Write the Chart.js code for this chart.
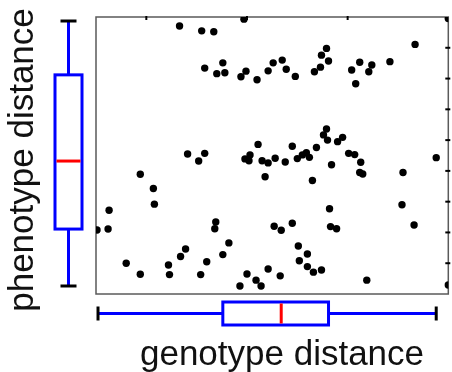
<!DOCTYPE html>
<html lang="en">
<head>
  <meta charset="UTF-8">
  <title>Genotype vs Phenotype Distance</title>
  <script src="https://cdn.jsdelivr.net/npm/chart.js"></script>
  <style>
    html, body {
      margin: 0;
      padding: 0;
      background: #fff;
    }
    #wrap {
      width: 452px;
      height: 372px;
    }
  </style>
</head>
<body>
  <div id="wrap">
    <canvas id="distChart" width="452" height="372"></canvas>
  </div>

  <script>
    // pairwise distances, one entry per pair
    const genotypeDistance = [
      0.197, 0.133, 0.155, 0.167, 0.176, 0.158, 0.170, 0.178, 0.199, 0.194,
      0.210, 0.221, 0.226, 0.235, 0.239, 0.248, 0.267, 0.273, 0.274, 0.279,
      0.281, 0.304, 0.312, 0.308, 0.321, 0.324, 0.342, 0.367, 0.400, 0.211,
      0.245, 0.269, 0.279, 0.276, 0.280, 0.290, 0.295, 0.141, 0.158, 0.152,
      0.198, 0.203, 0.202, 0.215, 0.221, 0.218, 0.094, 0.107, 0.108, 0.063,
      0.051, 0.062, 0.169, 0.168, 0.182, 0.139, 0.134, 0.176, 0.160, 0.080,
      0.122, 0.094, 0.123, 0.154, 0.200, 0.221, 0.193, 0.209, 0.214, 0.228,
      0.238, 0.250, 0.255, 0.259, 0.262, 0.301, 0.307, 0.284, 0.313, 0.312,
      0.315, 0.265, 0.355, 0.388, 0.282, 0.354, 0.227, 0.234, 0.245, 0.283,
      0.289, 0.366, 0.251, 0.260, 0.252, 0.260, 0.266, 0.274, 0.233, 0.319,
      0.400
    ];
    const phenotypeDistance = [
      0.893, 0.871, 0.855, 0.852, 0.751, 0.734, 0.716, 0.719, 0.724, 0.706,
      0.696, 0.725, 0.751, 0.760, 0.730, 0.707, 0.722, 0.737, 0.776, 0.798,
      0.757, 0.728, 0.753, 0.683, 0.722, 0.744, 0.755, 0.811, 0.895, 0.486,
      0.480, 0.476, 0.536, 0.517, 0.500, 0.495, 0.509, 0.455, 0.457, 0.432,
      0.439, 0.452, 0.433, 0.433, 0.426, 0.381, 0.389, 0.343, 0.292, 0.272,
      0.208, 0.211, 0.234, 0.212, 0.166, 0.146, 0.122, 0.128, 0.105, 0.100,
      0.094, 0.064, 0.063, 0.063, 0.065, 0.081, 0.026, 0.045, 0.026, 0.441,
      0.429, 0.440, 0.452, 0.459, 0.444, 0.457, 0.453, 0.420, 0.428, 0.395,
      0.390, 0.369, 0.395, 0.443, 0.277, 0.290, 0.220, 0.207, 0.230, 0.219,
      0.212, 0.224, 0.156, 0.130, 0.108, 0.089, 0.071, 0.078, 0.059, 0.045,
      0.029
    ];

    // box summaries: [lower whisker, q1, median, q3, upper whisker]
    const genotypeBox = [0.052, 0.176, 0.234, 0.281, 0.388];
    const phenotypeBox = [0.026, 0.211, 0.432, 0.712, 0.887];

    // small tick marks on the top and right edges
    const xTicks = [0.1, 0.2, 0.3];
    const yTicks = [0.1, 0.2, 0.3, 0.4, 0.5, 0.6, 0.7, 0.8];

    const BLUE = "#0000ff";
    const RED = "#ff0000";
    const LABEL_FONT = "35px 'Liberation Sans', Arial, sans-serif";

    function line(ctx, x1, y1, x2, y2, color, width) {
      ctx.strokeStyle = color;
      ctx.lineWidth = width;
      ctx.beginPath();
      ctx.moveTo(x1, y1);
      ctx.lineTo(x2, y2);
      ctx.stroke();
    }

    // frame + edge ticks under the points
    const framePlugin = {
      id: "frame",
      beforeDatasetsDraw(chart) {
        const { ctx, chartArea: a, scales } = chart;
        ctx.save();
        ctx.strokeStyle = "#5a5a5a";
        ctx.lineWidth = 1.5;
        ctx.strokeRect(a.left, a.top, a.right - a.left, a.bottom - a.top);
        ctx.lineCap = "butt";
        xTicks.forEach(v => {
          const px = scales.x.getPixelForValue(v);
          line(ctx, px, a.top - 1, px, a.top + 3, "#000", 2);
        });
        yTicks.forEach(v => {
          const py = scales.y.getPixelForValue(v);
          line(ctx, a.right - 3, py, a.right + 2, py, "#000", 2);
        });
        ctx.restore();
      }
    };

    // marginal box plots and axis titles
    const marginPlugin = {
      id: "margins",
      afterDraw(chart) {
        const { ctx, scales } = chart;
        const xs = scales.x, ys = scales.y;
        ctx.save();
        ctx.lineCap = "butt";

        // phenotype box, vertical, left of the plot
        const [pLo, pQ1, pMed, pQ3, pHi] = phenotypeBox.map(v => ys.getPixelForValue(v));
        const cx = 68.5, bw = 13.5, cw = 8;
        line(ctx, cx, pHi, cx, pQ3, BLUE, 3);
        line(ctx, cx, pQ1, cx, pLo, BLUE, 3);
        ctx.strokeStyle = BLUE;
        ctx.lineWidth = 3;
        ctx.strokeRect(cx - bw, pQ3, bw * 2, pQ1 - pQ3);
        line(ctx, cx - bw + 1.5, pMed, cx + bw - 1.5, pMed, RED, 3);
        line(ctx, cx - cw, pHi, cx + cw, pHi, "#000", 3);
        line(ctx, cx - cw, pLo, cx + cw, pLo, "#000", 3);

        // genotype box, horizontal, below the plot
        const [gLo, gQ1, gMed, gQ3, gHi] = genotypeBox.map(v => xs.getPixelForValue(v));
        const cy = 313.5, bh = 11.5, ch = 7;
        line(ctx, gLo, cy, gQ1, cy, BLUE, 3);
        line(ctx, gQ3, cy, gHi, cy, BLUE, 3);
        ctx.strokeStyle = BLUE;
        ctx.lineWidth = 3;
        ctx.strokeRect(gQ1, cy - bh, gQ3 - gQ1, bh * 2);
        line(ctx, gMed, cy - bh + 1.5, gMed, cy + bh - 1.5, RED, 3);
        line(ctx, gLo, cy - ch, gLo, cy + ch, "#000", 3);
        line(ctx, gHi, cy - ch, gHi, cy + ch, "#000", 3);

        // axis titles
        ctx.fillStyle = "#111";
        ctx.font = LABEL_FONT;
        ctx.textAlign = "center";
        ctx.textBaseline = "alphabetic";
        ctx.fillText("genotype distance", 282, 365);
        ctx.translate(33, 160);
        ctx.rotate(-Math.PI / 2);
        ctx.fillText("phenotype distance", 0, 0);
        ctx.restore();
      }
    };

    const points = genotypeDistance.map((x, i) => ({ x: x, y: phenotypeDistance[i] }));

    new Chart(document.getElementById("distChart"), {
      type: "scatter",
      data: {
        datasets: [{
          label: "pairs",
          data: points,
          backgroundColor: "#000",
          borderWidth: 0,
          pointRadius: 3.7,
          pointHoverRadius: 3.7
        }]
      },
      options: {
        responsive: false,
        animation: false,
        layout: {
          padding: { left: 96, top: 17, right: 3, bottom: 78 }
        },
        scales: {
          x: { type: "linear", min: 0.05, max: 0.4, display: false },
          y: { type: "linear", min: 0, max: 0.9, display: false }
        },
        plugins: {
          legend: { display: false },
          tooltip: { enabled: false }
        }
      },
      plugins: [framePlugin, marginPlugin]
    });
  </script>
</body>
</html>
